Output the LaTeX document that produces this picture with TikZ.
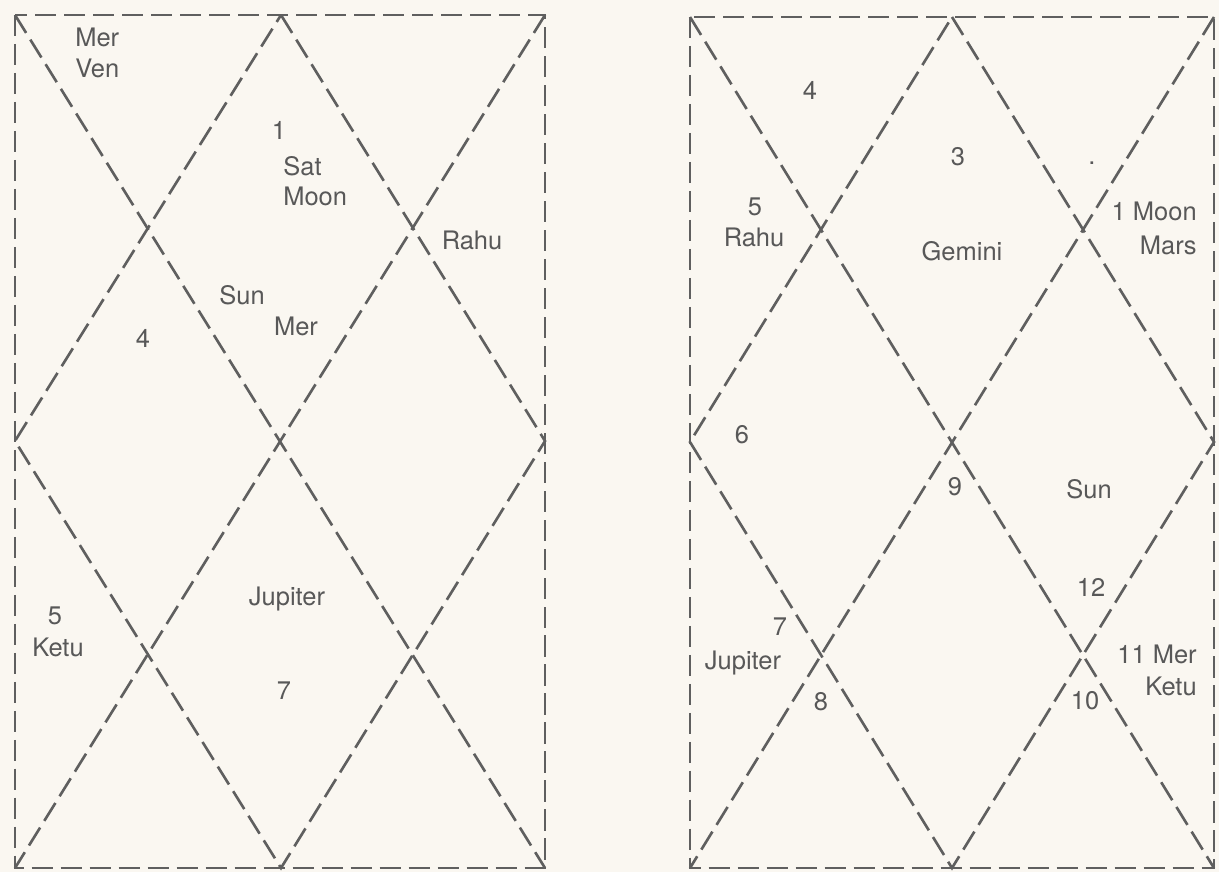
\documentclass[tikz,border=0pt]{standalone}
\usepackage{fontspec}
\setmainfont{TeX Gyre Heros}
\usepackage{xcolor}
\usetikzlibrary{positioning}

\definecolor{paper}{RGB}{250,247,241}
\definecolor{ink}{RGB}{95,95,95}
\definecolor{inktext}{RGB}{88,88,88}

\begin{document}
\begin{tikzpicture}[
    x=0.02cm, y=-0.02cm,
    chartline/.style={draw=ink, line width=1.5pt, dash pattern=on 12pt off 4.5pt},
    lbl/.style={font=\fontsize{14.5}{17}\selectfont, text=inktext, inner sep=0pt, text height=1.55ex, text depth=0pt},
]

% 背景
\fill[paper] (0,0) rectangle (1219,872);
\useasboundingbox (0,0) rectangle (1219,872);

% 左图
\coordinate (ltl) at (15,15);
\coordinate (ltr) at (545,15);
\coordinate (lbl) at (15,868);
\coordinate (lbr) at (545,868);
\coordinate (ltm) at (281,15);
\coordinate (lbm) at (281,868);
\coordinate (llm) at (15,441);
\coordinate (lrm) at (545,441);

\draw[chartline] (ltl) rectangle (lbr);
\draw[chartline] (ltl) -- (lbr);
\draw[chartline] (ltr) -- (lbl);
\draw[chartline] (ltm) -- (lrm) -- (lbm) -- (llm) -- cycle;

\node[lbl, anchor=west] (lmer1) at (75,39)  {Mer};
\node[lbl, anchor=west] (lven)  at (75,70)  {Ven};
\node[lbl] (lone)  at (279,132) {1};
\node[lbl, anchor=west] (lsat)  at (283,168) {Sat};
\node[lbl, anchor=west] (lmoon) at (283,198) {Moon};
\node[lbl] (lrahu) at (472,242) {Rahu};
\node[lbl] (lsun)  at (242,297) {Sun};
\node[lbl] (lmer2) at (296,328) {Mer};
\node[lbl] (lfour) at (143,340) {4};
\node[lbl] (ljup)  at (287,598) {Jupiter};
\node[lbl] (lfive) at (55,617)  {5};
\node[lbl] (lketu) at (58,649)  {Ketu};
\node[lbl] (lseven) at (284,692) {7};

% 右图
\coordinate (rtl) at (690,17);
\coordinate (rtr) at (1214,17);
\coordinate (rbl) at (690,868);
\coordinate (rbr) at (1214,868);
\coordinate (rtm) at (952,17);
\coordinate (rbm) at (952,868);
\coordinate (rlm) at (690,442);
\coordinate (rrm) at (1214,442);

\draw[chartline] (rtl) rectangle (rbr);
\draw[chartline] (rtl) -- (rbr);
\draw[chartline] (rtr) -- (rbl);
\draw[chartline] (rtm) -- (rrm) -- (rbm) -- (rlm) -- cycle;

\node[lbl] (rfour)  at (810,92)  {4};
\node[lbl] (rthree) at (958,158) {3};
\node[lbl] (rdot)   at (1092,157) {.};
\node[lbl] (rfive)  at (755,208) {5};
\node[lbl] (rrahu)  at (754,239) {Rahu};
\node[lbl] (rgem)   at (962,253) {Gemini};
\node[lbl, anchor=east] (rmoon) at (1197,213) {1 Moon};
\node[lbl, anchor=east] (rmars) at (1197,247) {Mars};
\node[lbl] (rsix)   at (742,436) {6};
\node[lbl] (rnine)  at (955,488) {9};
\node[lbl] (rsun)   at (1089,491) {Sun};
\node[lbl] (rtwelve) at (1091,589) {12};
\node[lbl] (rseven) at (780,628) {7};
\node[lbl] (rjup)   at (743,662) {Jupiter};
\node[lbl] (reight) at (821,703) {8};
\node[lbl] (rten)   at (1085,702) {10};
\node[lbl, anchor=east] (rmer)  at (1197,656) {11 Mer};
\node[lbl, anchor=east] (rketu) at (1197,688) {Ketu};

\end{tikzpicture}
\end{document}
